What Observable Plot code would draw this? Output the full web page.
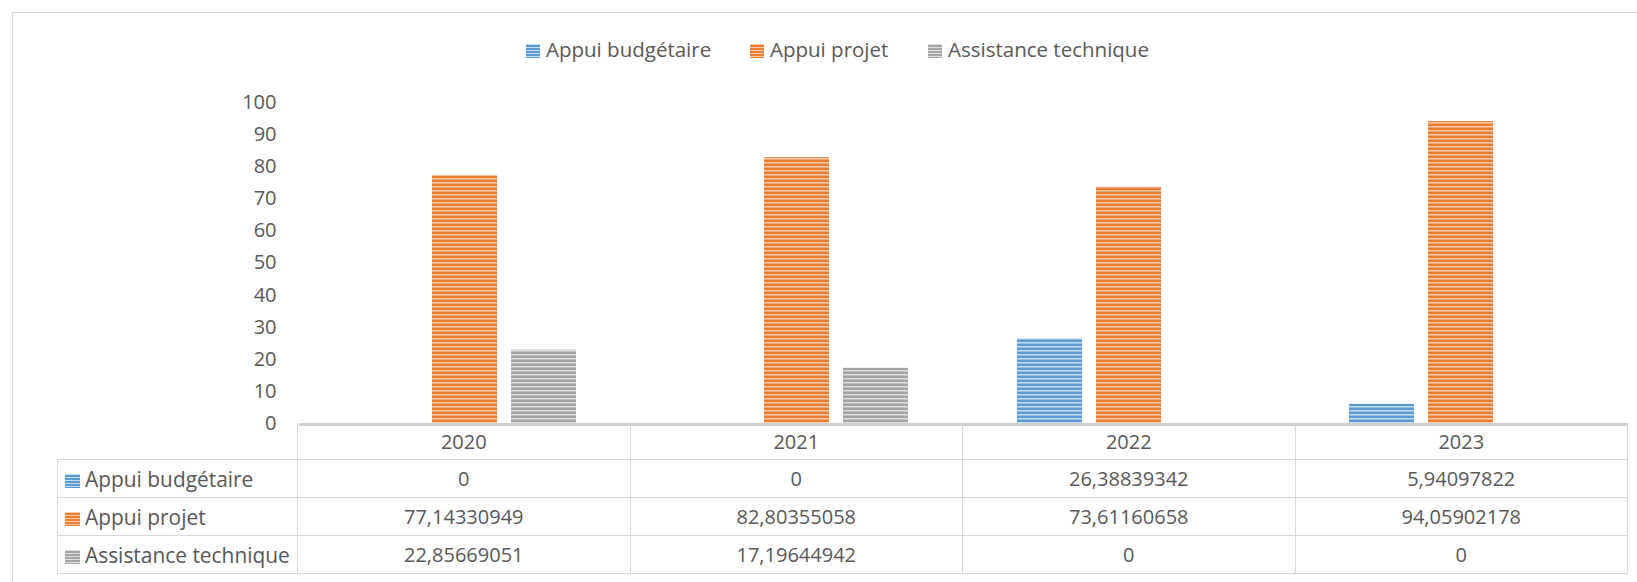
<!DOCTYPE html>
<html>
<head>
<meta charset="utf-8">
<script src="https://cdn.jsdelivr.net/npm/d3@7"></script>
<script src="https://cdn.jsdelivr.net/npm/@observablehq/plot@0.6"></script>
<style>
  html, body { margin: 0; padding: 0; background: #fff; }
  body { width: 1637px; height: 582px; position: relative; overflow: hidden; font-family: "Open Sans", sans-serif; color: #595959; }
  #frame { position: absolute; left: 12px; top: 12px; width: 1640px; height: 600px; border-top: 1.5px solid #d9d9d9; border-left: 1.5px solid #d9d9d9; box-sizing: border-box; }
  #legend { position: absolute; left: 0; top: 36px; height: 27px; width: 1637px; font-size: 20.5px; line-height: 27px; }
  .item { position: absolute; top: 0; white-space: nowrap; }
  .key { display: inline-block; width: 14px; height: 14px; margin-right: 6px; vertical-align: -1px; }
  #chart { position: absolute; left: 0; top: 90px; }
  #table { position: absolute; left: 57px; top: 423px; width: 1571px; border-collapse: collapse; table-layout: fixed; font-size: 20px; }
  #table td { border: 1.5px solid #d9d9d9; text-align: center; padding: 0; height: 37px; white-space: nowrap; }
  #table tr.head td { border-top: none; height: 36px; }
  #table tr.head td.empty { border-left: none; border-top: none; }
  #table td.name { text-align: left; padding-left: 7px; font-size: 20.9px; }
  #table td.name .key { width: 15px; margin-right: 5px; }
</style>
</head>
<body>
<div id="frame"></div>
<div id="legend"></div>
<div id="chart"></div>
<table id="table"></table>
<script>
// ---- data ----
const years = ["2020", "2021", "2022", "2023"];
const series = ["Appui budgétaire", "Appui projet", "Assistance technique"];
const appuiBudgetaire = [0, 0, 26.38839342, 5.94097822];
const appuiProjet = [77.14330949, 82.80355058, 73.61160658, 94.05902178];
const assistanceTechnique = [22.85669051, 17.19644942, 0, 0];
const yTicks = [0, 10, 20, 30, 40, 50, 60, 70, 80, 90, 100];

// ---- styles ----
const darkColors = ["#5B9BD5", "#ED7D31", "#A5A5A5"];
const lightColors = ["#C5DCF0", "#F8CBAD", "#DDDDDD"];
const patternIds = ["pat-b", "pat-o", "pat-g"];

const seriesValues = [appuiBudgetaire, appuiProjet, assistanceTechnique];
const rows = years.flatMap((yr, i) => series.map((s, j) => ({year: yr, series: s, value: seriesValues[j][i]})));

const chart = Plot.plot({
  width: 1637,
  height: 340,
  marginLeft: 297,
  marginRight: 9,
  marginTop: 12,
  marginBottom: 7,
  style: {fontFamily: "Open Sans", fontSize: "20px", color: "#595959", background: "transparent", overflow: "visible"},
  fx: {domain: years, padding: 0, axis: null},
  x: {domain: series, paddingInner: 0.175, paddingOuter: 0.6656, axis: null},
  y: {domain: [0, 100], ticks: yTicks, tickSize: 0, tickPadding: 23, label: null},
  color: {domain: series, range: patternIds.map(id => `url(#${id})`)},
  marks: [
    Plot.barY(rows.filter(d => d.value > 0), {fx: "year", x: "series", y: "value", fill: "series"}),
    Plot.ruleY([0], {stroke: "#d0d0d0", strokeWidth: 3, dy: 1})
  ]
});

const defs = d3.select(chart).insert("defs", ":first-child");
patternIds.forEach((id, k) => {
  const p = defs.append("pattern").attr("id", id).attr("patternUnits", "userSpaceOnUse")
    .attr("width", 8).attr("height", 4);
  p.append("rect").attr("width", 8).attr("height", 4).attr("fill", lightColors[k]);
  p.append("rect").attr("y", 1.5).attr("width", 8).attr("height", 2.5).attr("fill", darkColors[k]);
});
document.getElementById("chart").appendChild(chart);

function keyStyle(k) {
  return `background: repeating-linear-gradient(to bottom, ${lightColors[k]} 0 1px, ${darkColors[k]} 1px 3px);`;
}

// ---- legend ----
const legendLeft = [526, 750, 928];
const legend = document.getElementById("legend");
series.forEach((s, k) => {
  const item = document.createElement("div");
  item.className = "item";
  item.style.left = legendLeft[k] + "px";
  item.innerHTML = `<span class="key" style="${keyStyle(k)}"></span>${s}`;
  legend.appendChild(item);
});

// ---- data table ----
const fmt = v => v === 0 ? "0" : String(v).replace(".", ",");
const table = document.getElementById("table");
const colgroup = document.createElement("colgroup");
colgroup.innerHTML = `<col style="width:240px">` + years.map(() => `<col style="width:332.5px">`).join("");
table.appendChild(colgroup);
const head = document.createElement("tr");
head.className = "head";
head.innerHTML = `<td class="empty"></td>` + years.map(y => `<td>${y}</td>`).join("");
table.appendChild(head);
series.forEach((s, k) => {
  const tr = document.createElement("tr");
  tr.innerHTML = `<td class="name"><span class="key" style="${keyStyle(k)}"></span>${s}</td>` +
    seriesValues[k].map(v => `<td>${fmt(v)}</td>`).join("");
  table.appendChild(tr);
});
</script>
</body>
</html>
